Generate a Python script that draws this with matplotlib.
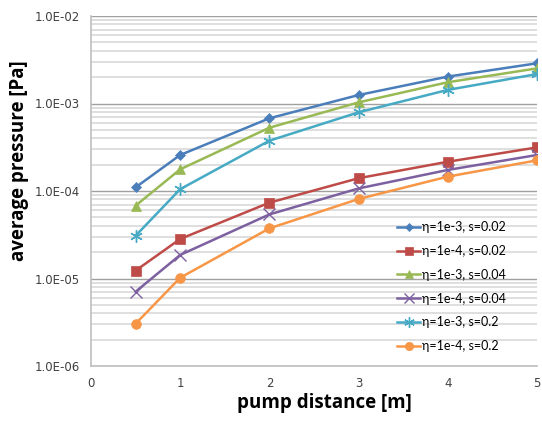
import matplotlib
matplotlib.use("Agg")
import matplotlib.pyplot as plt
from matplotlib.ticker import FuncFormatter, LogLocator

# pump distance [m]
distance = [0.5, 1, 2, 3, 4, 5]

# average pressure [Pa] per case
p_e3_s002 = [1.10e-4, 2.58e-4, 6.78e-4, 1.25e-3, 2.03e-3, 2.88e-3]
p_e4_s002 = [1.23e-5, 2.83e-5, 7.36e-5, 1.40e-4, 2.16e-4, 3.15e-4]
p_e3_s004 = [6.8e-5, 1.77e-4, 5.29e-4, 1.03e-3, 1.75e-3, 2.52e-3]
p_e4_s004 = [7.07e-6, 1.86e-5, 5.4e-5, 1.07e-4, 1.74e-4, 2.58e-4]
p_e3_s02 = [3.08e-5, 1.05e-4, 3.76e-4, 7.93e-4, 1.43e-3, 2.17e-3]
p_e4_s02 = [3.04e-6, 1.02e-5, 3.74e-5, 8.1e-5, 1.46e-4, 2.24e-4]

labels = ["η=1e-3, s=0.02", "η=1e-4, s=0.02", "η=1e-3, s=0.04",
          "η=1e-4, s=0.04", "η=1e-3, s=0.2", "η=1e-4, s=0.2"]

W, H = 542, 421
fig = plt.figure(figsize=(W / 100, H / 100), dpi=100)
ax = fig.add_axes([91 / W, 1 - 366 / H, (537 - 91) / W, (366 - 16) / H])

series = [p_e3_s002, p_e4_s002, p_e3_s004, p_e4_s004, p_e3_s02, p_e4_s02]
colors = ["#4A7EBB", "#BE4B48", "#98B954", "#7D60A0", "#46AAC5", "#F79646"]
markers = ["D", "s", "^", "x", (6, 2, 0), "o"]
sizes = [5, 7, 7, 8, 9, 7]

for vals, lab, c, m, ms in zip(series, labels, colors, markers, sizes):
    ax.plot(distance, vals, color=c, marker=m, markersize=ms, lw=1.8,
            markeredgewidth=1.0 if m in ("x", (6, 2, 0)) else 0.5,
            markeredgecolor=c, label=lab)

ax.set_yscale("log")
ax.set_ylim(1e-6, 1e-2)
ax.set_xlim(0, 5)
ax.set_xticks([0, 1, 2, 3, 4, 5])
ax.yaxis.set_major_locator(LogLocator(base=10, numticks=10))
ax.yaxis.set_minor_locator(LogLocator(base=10, subs=range(2, 10), numticks=10))
ax.yaxis.set_major_formatter(FuncFormatter(lambda v, p: "%.1E" % v))
ax.yaxis.set_minor_formatter(FuncFormatter(lambda v, p: ""))

ax.grid(True, which="major", axis="y", color="#A0A0A0", lw=1.0)
ax.grid(True, which="minor", axis="y", color="#D9D9D9", lw=1.2)
ax.set_axisbelow(True)

for s in ("top", "right"):
    ax.spines[s].set_visible(False)
for s in ("left", "bottom"):
    ax.spines[s].set_color("#BFBFBF")
    ax.spines[s].set_linewidth(1.2)

ax.tick_params(which="both", length=0)
ax.tick_params(axis="both", labelsize=8.5, labelcolor="#404040", pad=8)
for t in ax.get_yticklabels() + ax.get_xticklabels():
    t.set_family("DejaVu Sans")

fig.text(324 / W, 1 - 403 / H, "pump distance [m]", fontsize=13.5,
         fontweight="bold", family="Open Sans", ha="center", va="center")
fig.text(19 / W, 1 - 161 / H, "average pressure [Pa]", fontsize=13.5,
         fontweight="bold", family="Open Sans", rotation=90,
         ha="center", va="center")

ax.legend(loc="upper left", bbox_to_anchor=(397 / W, 1 - 221 / H),
          bbox_transform=fig.transFigure, frameon=False, borderpad=0,
          borderaxespad=0, prop={"family": "Lato", "size": 9},
          labelspacing=0.95, handlelength=1.85, handletextpad=0.15,
          markerscale=0.85)

fig.savefig("out.png", dpi=100)
